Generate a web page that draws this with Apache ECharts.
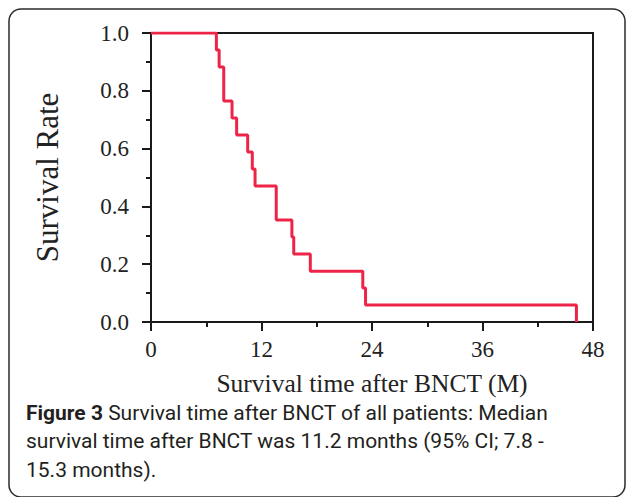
<!DOCTYPE html>
<html>
<head>
<meta charset="utf-8">
<script src="https://cdn.jsdelivr.net/npm/echarts@6/dist/echarts.min.js"></script>
<style>
  html, body { margin: 0; padding: 0; background: #fff; }
  #main { width: 627px; height: 497px; }
</style>
</head>
<body>
<div id="main"></div>
<script>
// Kaplan-Meier steps (months, survival rate)
var months   = [0, 7.1, 7.4, 7.9, 8.8, 9.3, 10.5, 11.0, 11.3, 13.6, 15.3, 15.5, 17.3, 23.0, 23.3, 46.2];
var survival = [1.0, 0.941, 0.882, 0.765, 0.706, 0.647, 0.588, 0.529, 0.471, 0.353, 0.294, 0.235, 0.176, 0.118, 0.059, 0];

var xTicks = [0, 12, 24, 36, 48];
var yTicks = [0.0, 0.2, 0.4, 0.6, 0.8, 1.0];

var captionLines = [
  ['Figure 3', ' Survival time after BNCT of all patients: Median'],
  ['', 'survival time after BNCT was 11.2 months (95% CI; 7.8 -'],
  ['', '15.3 months).']
];

var chartDom = document.getElementById('main');
var myChart = echarts.init(chartDom, null, { renderer: 'svg' });

var serif = '"Liberation Serif", "Times New Roman", serif';
var axisColor = '#1a1a1a';

var points = months.map(function (m, i) { return [m, survival[i]]; });

var graphics = [
  {
    type: 'rect',
    shape: { x: 9, y: 9, width: 616, height: 488, r: 12 },
    style: { fill: 'none', stroke: '#2b2b2b', lineWidth: 1.5 },
    silent: true
  }
];
captionLines.forEach(function (line, i) {
  graphics.push({
    type: 'text',
    left: 26,
    top: 402 + i * 28.5,
    style: {
      text: (line[0] ? '{b|' + line[0] + '}' : '') + '{n|' + line[1] + '}',
      rich: {
        b: { fontFamily: 'Roboto, "Open Sans", sans-serif', fontSize: 21, fontWeight: 'bold', fill: '#231f20' },
        n: { fontFamily: 'Roboto, "Open Sans", sans-serif', fontSize: 21, fill: '#231f20' }
      }
    }
  });
});

var charOption = {
  backgroundColor: '#fff',
  animation: false,
  grid: { left: 151, top: 33, right: 34, bottom: 175 },
  xAxis: [
    {
      type: 'value',
      min: 0,
      max: 48,
      interval: 12,
      name: 'Survival time after BNCT (M)',
      nameLocation: 'middle',
      nameGap: 48,
      nameTextStyle: { fontFamily: serif, fontSize: 25.5, color: '#222' },
      axisLine: { show: true, onZero: false, lineStyle: { color: axisColor, width: 2 } },
      axisTick: { show: true, inside: false, length: 9, lineStyle: { color: axisColor, width: 2 } },
      minorTick: { show: true, splitNumber: 2, length: 5, lineStyle: { color: axisColor, width: 2 } },
      axisLabel: {
        margin: 16,
        fontFamily: serif, fontSize: 23, color: '#222',
        customValues: xTicks
      },
      splitLine: { show: false }
    },
    {
      type: 'value',
      position: 'top',
      min: 0,
      max: 48,
      axisLine: { show: true, onZero: false, lineStyle: { color: axisColor, width: 2 } },
      axisTick: { show: false },
      axisLabel: { show: false },
      splitLine: { show: false }
    }
  ],
  yAxis: [
    {
      type: 'value',
      min: 0,
      max: 1,
      interval: 0.2,
      name: 'Survival Rate',
      nameLocation: 'middle',
      nameGap: 88,
      nameTextStyle: { fontFamily: serif, fontSize: 31, color: '#222' },
      axisLine: { show: true, onZero: false, lineStyle: { color: axisColor, width: 2 } },
      axisTick: { show: true, inside: false, length: 9, lineStyle: { color: axisColor, width: 2 } },
      minorTick: { show: true, splitNumber: 2, length: 5, lineStyle: { color: axisColor, width: 2 } },
      axisLabel: {
        margin: 22,
        fontFamily: serif, fontSize: 23, color: '#222',
        formatter: function (v) { return v.toFixed(1); }
      },
      splitLine: { show: false }
    },
    {
      type: 'value',
      position: 'right',
      min: 0,
      max: 1,
      axisLine: { show: true, onZero: false, lineStyle: { color: axisColor, width: 2 } },
      axisTick: { show: false },
      axisLabel: { show: false },
      splitLine: { show: false }
    }
  ],
  series: [
    {
      type: 'line',
      step: 'end',
      data: points,
      symbol: 'none',
      lineStyle: { color: '#ee2348', width: 3 },
      z: 1
    }
  ],
  graphic: graphics
};
myChart.setOption(charOption);
</script>
</body>
</html>
